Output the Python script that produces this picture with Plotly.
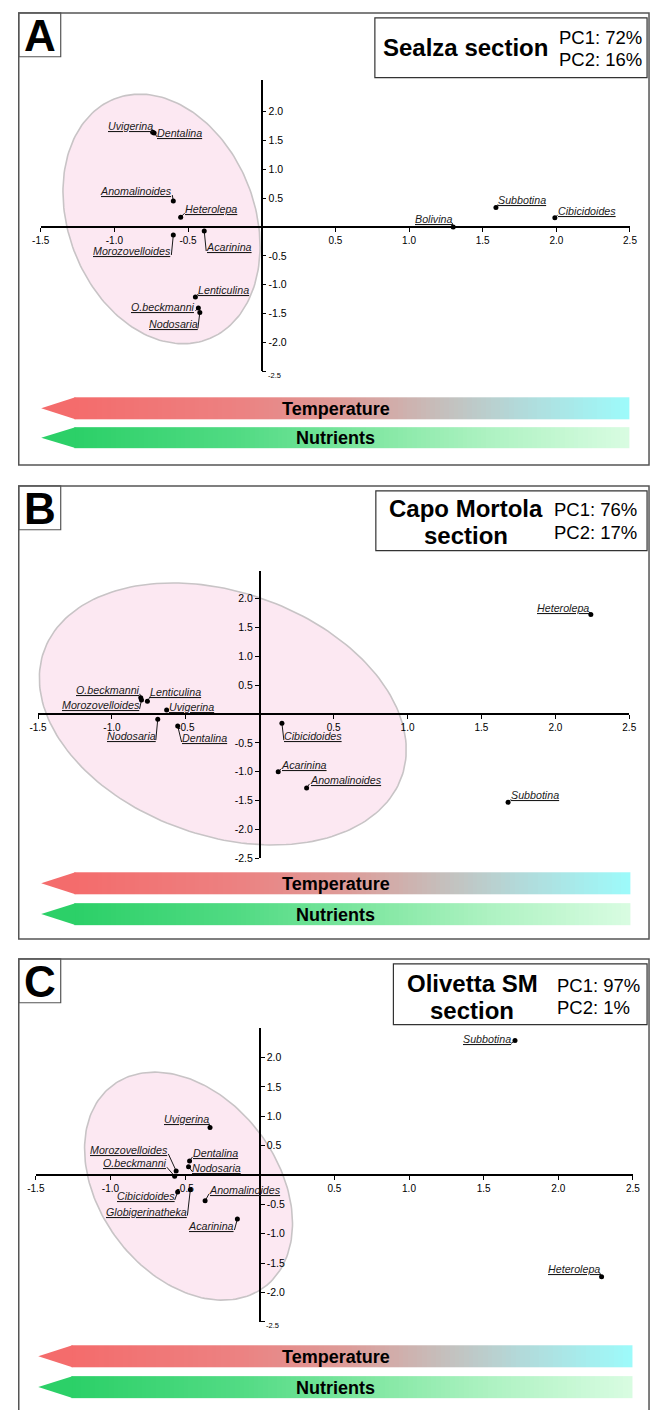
import numpy as np
import plotly.graph_objects as go

W, H = 657, 1416

# ---------------- data ----------------
taxa_A = ["Uvigerina", "Dentalina", "Anomalinoides", "Heterolepa", "Morozovelloides", "Acarinina",
          "Lenticulina", "O.beckmanni", "Nodosaria", "Bolivina", "Subbotina", "Cibicidoides"]
pc1_A = [-0.74, -0.73, -0.60, -0.55, -0.60, -0.39, -0.45, -0.43, -0.42, 1.30, 1.59, 1.99]
pc2_A = [1.64, 1.63, 0.45, 0.17, -0.14, -0.07, -1.21, -1.40, -1.48, 0.00, 0.34, 0.16]

taxa_B = ["O.beckmanni", "Morozovelloides", "Lenticulina", "Uvigerina", "Nodosaria", "Dentalina",
          "Cibicidoides", "Acarinina", "Anomalinoides", "Subbotina", "Heterolepa"]
pc1_B = [-0.805, -0.80, -0.76, -0.63, -0.69, -0.555, 0.15, 0.125, 0.317, 1.68, 2.24]
pc2_B = [0.28, 0.24, 0.22, 0.07, -0.09, -0.21, -0.16, -1.00, -1.28, -1.53, 1.72]

taxa_C = ["Uvigerina", "Morozovelloides", "O.beckmanni", "Dentalina", "Nodosaria", "Cibicidoides",
          "Globigerinatheka", "Anomalinoides", "Acarinina", "Subbotina", "Heterolepa"]
pc1_C = [-0.333, -0.56, -0.57, -0.47, -0.477, -0.55, -0.465, -0.366, -0.15, 1.71, 2.29]
pc2_C = [0.81, 0.07, -0.02, 0.24, 0.14, -0.29, -0.25, -0.44, -0.75, 2.29, -1.73]

pc_var_A = ["PC1: 72%", "PC2: 16%"]
pc_var_B = ["PC1: 76%", "PC2: 17%"]
pc_var_C = ["PC1: 97%", "PC2: 1%"]

x_ticks = [-1.5, -1.0, -0.5, 0.5, 1.0, 1.5, 2.0, 2.5]
y_ticks = [-2.5, -2.0, -1.5, -1.0, -0.5, 0.5, 1.0, 1.5, 2.0]

# ---------------- label layout (pixel offsets of the leader end from the dot, text side) ----------
lab_A = [(0, -2, "l"), (3, 4, "r"), (-1, -6, "l"), (4, -4, "r"), (-2, 20, "l"), (2, 20, "r"),
         (3, -3, "r"), (-3, 3, "l"), (-2, 16, "l"), (-1, -4, "l"), (2, -3, "r"), (3, -3, "r")]
lab_B = [(-1, -4, "l"), (-2, 9, "l"), (3, -5, "r"), (2, 1, "r"), (-2, 21, "l"), (4, 16, "r"),
         (2, 17, "r"), (3, -3, "r"), (3, -4, "r"), (3, -3, "r"), (-2, -3, "l")]
lab_C = [(-1, -4, "l"), (-8, -17, "l"), (-8, -9, "l"), (3, -4, "r"), (4, 5, "r"), (-3, 8, "l"),
         (-3, 26, "l"), (4, -7, "r"), (-3, 11, "l"), (-4, 3, "l"), (-2, -4, "l")]

# ---------------- panel geometry (pixels) ----------------
panels = [
    dict(letter="A", taxa=taxa_A, x=pc1_A, y=pc2_A, lab=lab_A, pcv=pc_var_A,
         ox=259, oy=228, sx=151, sy=58, ytop=2.55, yside="right", small_min=True,
         ell=(-0.68, 0.14, 0.86, 0.63, 67.4),
         top=13, bottom=467, temp=(399, 421), nut=(429, 450), tip=33, base=67, end=636,
         title=[("Sealza section", 48)], tx=468, pcx=562, pcy=(38, 60), box=(375, 18, 654, 78)),
    dict(letter="B", taxa=taxa_B, x=pc1_B, y=pc2_B, lab=lab_B, pcv=pc_var_B,
         ox=257, oy=717, sx=151.5, sy=58, ytop=2.48, yside="left", small_min=False,
         ell=(-0.25, 0.0, 1.28, 0.81, 18.4),
         top=488, bottom=943, temp=(876, 898), nut=(907, 929), tip=33, base=67, end=637,
         title=[("Capo Mortola", 511), ("section", 538)], tx=468, pcx=557, pcy=(512, 535),
         box=(376, 493, 654, 553)),
    dict(letter="C", taxa=taxa_C, x=pc1_C, y=pc2_C, lab=lab_C, pcv=pc_var_C,
         ox=257, oy=1180, sx=153, sy=59, ytop=2.5, yside="right", small_min=True,
         ell=(-0.477, -0.19, 0.835, 0.59, 51.2),
         top=963, bottom=1430, temp=(1351, 1373), nut=(1382, 1404), tip=30, base=64, end=639,
         title=[("Olivetta SM", 988), ("section", 1015)], tx=475, pcx=560, pcy=(990, 1012),
         box=(394, 968, 654, 1029)),
]

temp_scale = [[0, "#F46C6C"], [0.3, "#EC8282"], [0.5, "#DC9D9A"], [0.65, "#C7BCB9"],
              [0.8, "#B3D9D9"], [1, "#9DFAFA"]]
nut_scale = [[0, "#2CD068"], [0.3, "#52DB84"], [0.55, "#84E8A4"], [0.75, "#AEF2C2"],
             [1, "#D8FCE1"]]

FONT = "Liberation Sans, Arial, sans-serif"

fig = go.Figure()
layout = dict(width=W, height=H, margin=dict(l=0, r=0, t=0, b=0),
              paper_bgcolor="white", plot_bgcolor="rgba(0,0,0,0)", showlegend=False)
annotations = []
shapes = []

# overlay pixel axes for decorations
layout["xaxis4"] = dict(domain=[0, 1], range=[0, W], visible=False, fixedrange=True)
layout["yaxis4"] = dict(domain=[0, 1], range=[H, 0], visible=False, fixedrange=True, anchor="x4")

for i, p in enumerate(panels):
    n = "" if i == 0 else str(i + 1)
    xa, ya = "x" + n, "y" + n
    ox, oy, sx, sy = p["ox"], p["oy"], p["sx"], p["sy"]
    xdom = [(ox - 1.5 * sx) / W, (ox + 2.5 * sx) / W]
    ydom = [1 - (oy + 2.5 * sy) / H, 1 - (oy - p["ytop"] * sy) / H]
    ytext = ["%.1f" % v for v in y_ticks]
    if p["small_min"]:
        ytext[0] = ""
    layout["xaxis" + n] = dict(domain=xdom, range=[-1.5, 2.5], anchor="free", position=1 - oy / H,
                               showline=True, linecolor="black", linewidth=1.6, ticks="outside",
                               ticklen=4, tickwidth=1, tickcolor="black", tickvals=x_ticks,
                               ticktext=["%.1f" % v for v in x_ticks], showgrid=False, zeroline=False,
                               tickfont=dict(family=FONT, size=10, color="black"), fixedrange=True)
    layout["yaxis" + n] = dict(domain=ydom, range=[-2.5, p["ytop"]], anchor="free", position=ox / W,
                               side=p["yside"], showline=True, linecolor="black", linewidth=1.6,
                               ticks="outside", ticklen=4, tickwidth=1, tickcolor="black",
                               tickvals=y_ticks, ticktext=ytext, showgrid=False, zeroline=False,
                               tickfont=dict(family=FONT, size=10.5, color="black"), fixedrange=True)
    if p["small_min"]:
        annotations.append(dict(xref=xa, yref=ya, x=0, y=-2.5, text="-2.5", showarrow=False,
                                xanchor="left", yanchor="middle", xshift=4, yshift=-4,
                                font=dict(family=FONT, size=7.5, color="black")))

    # ellipse
    cx, cy, a, b, phi = p["ell"]
    t = np.linspace(0, 2 * np.pi, 200)
    ph = np.radians(phi)
    u, v = a * sx * np.cos(t), b * sx * np.sin(t)
    dxp = u * np.cos(ph) - v * np.sin(ph)
    dyp = u * np.sin(ph) + v * np.cos(ph)
    fig.add_trace(go.Scatter(x=cx + dxp / sx, y=cy - dyp / sy, mode="lines", fill="toself",
                             fillcolor="#FCE8F2", line=dict(color="#C8C4C6", width=1.6),
                             xaxis=xa, yaxis=ya, hoverinfo="skip"))

    # leaders + labels
    lx, ly = [], []
    for name, px_, py_, (dx, dy, side) in zip(p["taxa"], p["x"], p["y"], p["lab"]):
        ax_ = px_ + dx / sx
        ay_ = py_ - dy / sy
        lx += [px_, ax_, None]
        ly += [py_, ay_, None]
        annotations.append(dict(xref=xa, yref=ya, x=ax_, y=ay_, text="<i><u>%s</u></i>" % name,
                                showarrow=False, xanchor="right" if side == "l" else "left",
                                yanchor="bottom", borderpad=0, borderwidth=0, yshift=-2,
                                font=dict(family=FONT, size=10.7, color="#1a1a1a")))
    fig.add_trace(go.Scatter(x=lx, y=ly, mode="lines", line=dict(color="#1a1a1a", width=1),
                             xaxis=xa, yaxis=ya, hoverinfo="skip"))
    fig.add_trace(go.Scatter(x=p["x"], y=p["y"], mode="markers", text=p["taxa"],
                             marker=dict(color="black", size=5), xaxis=xa, yaxis=ya))

    # panel frame and letter box
    shapes.append(dict(type="rect", xref="x4", yref="y4", x0=10, x1=656, y0=p["top"], y1=p["bottom"],
                       line=dict(color="#555555", width=1.5)))
    shapes.append(dict(type="rect", xref="x4", yref="y4", x0=10, x1=53, y0=p["top"], y1=p["top"] + 44,
                       line=dict(color="#555555", width=1.2)))
    annotations.append(dict(xref="x4", yref="y4", x=31.5, y=p["top"] + 23, text="<b>%s</b>" % p["letter"],
                            showarrow=False, xanchor="center", yanchor="middle",
                            font=dict(family=FONT, size=44, color="black")))
    # title box
    bx0, by0, bx1, by1 = p["box"]
    shapes.append(dict(type="rect", xref="x4", yref="y4", x0=bx0, x1=bx1, y0=by0, y1=by1,
                       line=dict(color="#333333", width=1.2), fillcolor="white"))
    for txt, ty in p["title"]:
        annotations.append(dict(xref="x4", yref="y4", x=p["tx"], y=ty, text="<b>%s</b>" % txt,
                                showarrow=False, xanchor="center", yanchor="middle",
                                font=dict(family=FONT, size=24, color="black")))
    for txt, ty in zip(p["pcv"], p["pcy"]):
        annotations.append(dict(xref="x4", yref="y4", x=p["pcx"], y=ty, text=txt, showarrow=False,
                                xanchor="left", yanchor="middle",
                                font=dict(family=FONT, size=18.5, color="black")))

    # gradient arrows
    for (y0, y1), scale, label in [(p["temp"], temp_scale, "Temperature"),
                                   (p["nut"], nut_scale, "Nutrients")]:
        N = 120
        xe = np.linspace(p["base"], p["end"], N + 1)
        fig.add_trace(go.Heatmap(x=xe, y=[y0, y1], z=[np.linspace(0, 1, N)], colorscale=scale,
                                 zmin=0, zmax=1, showscale=False, xaxis="x4", yaxis="y4",
                                 hoverinfo="skip"))
        fig.add_trace(go.Scatter(x=[p["tip"], p["base"] + 1, p["base"] + 1, p["tip"]],
                                 y=[(y0 + y1) / 2, y0, y1, (y0 + y1) / 2], mode="lines",
                                 fill="toself", fillcolor=scale[0][1], line=dict(width=0),
                                 xaxis="x4", yaxis="y4", hoverinfo="skip"))
        annotations.append(dict(xref="x4", yref="y4", x=335, y=(y0 + y1) / 2 + 0.5,
                                text="<b>%s</b>" % label, showarrow=False, xanchor="center",
                                yanchor="middle", font=dict(family=FONT, size=18, color="black")))

layout["annotations"] = annotations
layout["shapes"] = shapes
fig.update_layout(**layout)
fig.write_html("out.html")
